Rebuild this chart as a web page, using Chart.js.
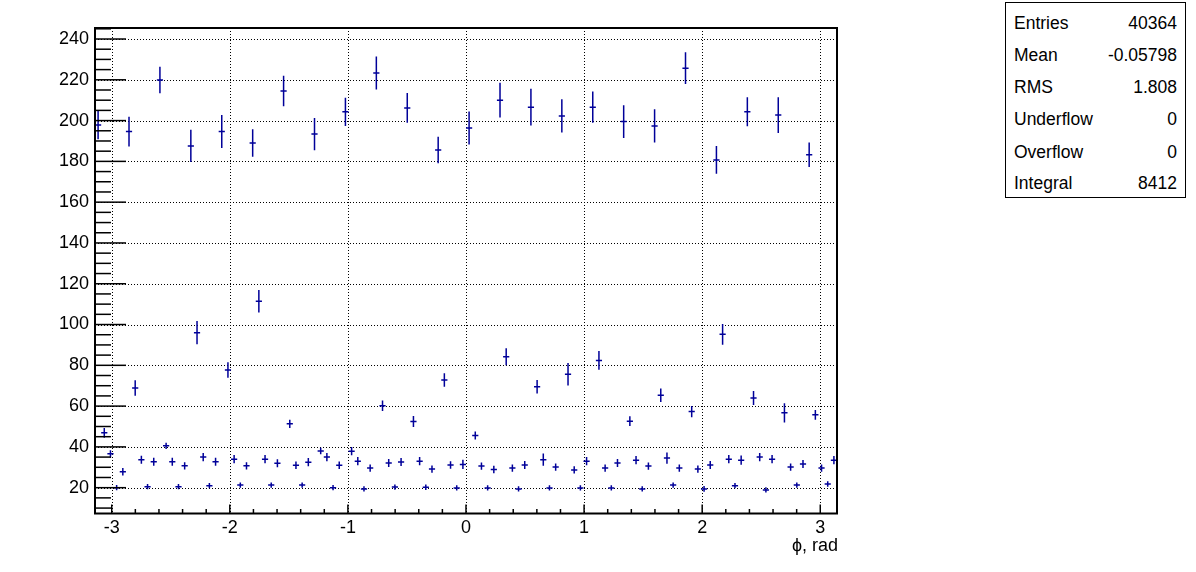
<!DOCTYPE html>
<html>
<head>
<meta charset="utf-8">
<script src="https://cdn.jsdelivr.net/npm/chart.js@4.4.0/dist/chart.umd.min.js"></script>
<style>
    body { margin: 0; background: #fff; }
    #wrap { position: relative; width: 1196px; height: 572px; }
    #stats {
        position: absolute; left: 1005px; top: 2px; width: 181px; height: 196px;
        border: 1px solid #000; box-sizing: border-box; background: #fff;
        font-family: "Liberation Sans", Arial, sans-serif; font-size: 17.5px; color: #000;
    }
    .row { position: absolute; left: 8px; right: 8px; height: 20px; line-height: 20px; display: flex; justify-content: space-between; }
</style>
</head>
<body>
<div id="wrap">
    <canvas id="chart" width="1196" height="572"></canvas>
    <div id="stats"></div>
</div>
<script>
// Histogram contents (120 bins from -pi to pi)
const counts = [
    197.8, 46.9, 36.6, 20.0, 27.8,
    194.6, 68.9, 33.7, 20.5, 32.7,
    219.9, 40.5, 32.7, 20.5, 30.7,
    187.6, 96.0, 35.0, 21.0, 32.7,
    194.6, 77.7, 34.0, 21.3, 30.7,
    189.0, 111.4, 34.0, 21.3, 32.0,
    214.5, 51.3, 31.0, 21.3, 32.5,
    193.4, 38.0, 35.0, 20.0, 31.0,
    204.3, 37.9, 33.0, 19.4, 29.6,
    223.3, 60.2, 32.1, 20.3, 32.6,
    206.2, 52.4, 33.0, 20.2, 29.1,
    185.6, 72.8, 31.1, 19.9, 31.4,
    196.4, 45.6, 30.6, 19.9, 28.9,
    210.0, 84.2, 29.6, 19.4, 31.1,
    206.6, 69.5, 33.7, 19.9, 30.1,
    202.3, 75.6, 28.7, 19.9, 33.0,
    206.6, 82.4, 29.6, 19.9, 32.1,
    199.5, 52.6, 33.5, 19.4, 30.6,
    197.4, 65.3, 34.5, 21.3, 29.6,
    225.7, 57.3, 29.1, 19.4, 31.1,
    180.7, 95.2, 34.0, 21.0, 33.5,
    204.3, 64.0, 35.0, 18.9, 34.0,
    202.7, 56.7, 30.1, 21.3, 31.6,
    183.2, 55.7, 29.6, 21.8, 33.5
];

// Bin errors
const errors = [
    6.9, 2.4, 1.8, 1.3, 1.8,
    7.3, 3.8, 2.0, 1.3, 2.0,
    6.5, 1.5, 2.0, 1.3, 1.8,
    7.9, 5.7, 2.0, 1.3, 2.0,
    8.1, 3.8, 2.0, 1.3, 1.8,
    6.7, 5.5, 2.0, 1.3, 2.0,
    7.5, 2.0, 1.8, 1.3, 2.0,
    7.9, 1.6, 2.0, 1.3, 1.8,
    6.9, 2.0, 2.0, 1.3, 1.8,
    8.1, 2.6, 2.0, 1.3, 2.0,
    7.3, 2.7, 2.0, 1.3, 1.8,
    6.5, 3.3, 1.8, 1.3, 2.3,
    8.1, 2.0, 1.8, 1.3, 1.8,
    8.5, 4.2, 1.8, 1.3, 2.0,
    9.0, 3.3, 3.0, 1.3, 1.8,
    8.2, 5.5, 1.8, 1.3, 2.0,
    7.7, 4.6, 1.8, 1.3, 2.0,
    8.0, 2.4, 2.0, 1.3, 1.8,
    8.1, 3.3, 2.8, 1.3, 1.8,
    7.8, 2.8, 1.8, 1.4, 2.0,
    6.8, 5.1, 2.0, 1.3, 2.3,
    7.1, 3.4, 2.0, 1.3, 2.0,
    8.8, 4.7, 1.8, 1.3, 2.0,
    6.0, 2.4, 1.8, 1.3, 2.0
];

// Axis ticks
const xTicks = [-3, -2, -1, 0, 1, 2, 3];
const yTicks = [20, 40, 60, 80, 100, 120, 140, 160, 180, 200, 220, 240];
const xRange = [-Math.PI, Math.PI];
const yRange = [7.34, 245.4];
const xTitle = 'ϕ, rad';

// Stats box
const statLabels = ['Entries', 'Mean', 'RMS', 'Underflow', 'Overflow', 'Integral'];
const statValues = ['40364', '-0.05798', '1.808', '0', '0', '8412'];

const fontFamily = '"Liberation Sans", Arial, sans-serif';
const markColor = '#000099';
const binWidth = (xRange[1] - xRange[0]) / counts.length;

// Fill stats box
const statsBox = document.getElementById('stats');
const rowCenters = [22.5, 54.5, 87, 119, 151.5, 182.5];
statLabels.forEach((label, i) => {
    const row = document.createElement('div');
    row.className = 'row';
    row.style.top = (rowCenters[i] - 3 - 10) + 'px';
    row.innerHTML = `<span>${label}</span><span>${statValues[i]}</span>`;
    statsBox.appendChild(row);
});

// Frame, dotted grid, ticks and error crosses like ROOT
const rootStyle = {
    id: 'rootStyle',
    beforeDatasetsDraw(chart) {
        const { ctx, chartArea: a, scales: { x, y } } = chart;
        ctx.save();
        ctx.strokeStyle = '#000';
        ctx.lineWidth = 1;
        ctx.setLineDash([1, 2]);
        xTicks.forEach(v => {
            const px = Math.round(x.getPixelForValue(v)) + 0.5;
            ctx.beginPath();
            ctx.moveTo(px, a.top);
            ctx.lineTo(px, a.bottom);
            ctx.stroke();
        });
        yTicks.forEach(v => {
            const py = Math.round(y.getPixelForValue(v)) + 0.5;
            ctx.beginPath();
            ctx.moveTo(a.left, py);
            ctx.lineTo(a.right, py);
            ctx.stroke();
        });
        ctx.restore();
    },
    afterDatasetsDraw(chart) {
        const { ctx, chartArea: a, scales: { x, y } } = chart;
        ctx.save();

        // Error crosses
        ctx.strokeStyle = markColor;
        ctx.lineWidth = 1.5;
        const meta = chart.getDatasetMeta(0);
        meta.data.forEach((pt, i) => {
            const cx = x.getPixelForValue(xRange[0] + (i + 0.5) * binWidth);
            const x0 = x.getPixelForValue(xRange[0] + i * binWidth);
            const x1 = x.getPixelForValue(xRange[0] + (i + 1) * binWidth);
            const yTop = y.getPixelForValue(counts[i] + errors[i]);
            const yBot = y.getPixelForValue(counts[i] - errors[i]);
            ctx.beginPath();
            ctx.moveTo(x0, pt.y);
            ctx.lineTo(x1, pt.y);
            ctx.moveTo(cx, yTop);
            ctx.lineTo(cx, yBot);
            ctx.stroke();
        });

        // Ticks on the left and bottom axes
        ctx.strokeStyle = '#000';
        ctx.lineWidth = 1.5;
        for (let v = 10; v <= yRange[1]; v += 5) {
            const py = y.getPixelForValue(v);
            const len = v % 20 === 0 ? 31 : 16;
            ctx.beginPath();
            ctx.moveTo(a.left, py);
            ctx.lineTo(a.left + len, py);
            ctx.stroke();
        }
        for (let k = -15; k <= 15; k++) {
            const v = k / 5;
            if (v < xRange[0] || v > xRange[1]) continue;
            const px = x.getPixelForValue(v);
            const len = k % 5 === 0 ? 9 : 4.5;
            ctx.beginPath();
            ctx.moveTo(px, a.bottom);
            ctx.lineTo(px, a.bottom - len);
            ctx.stroke();
        }

        // Frame
        ctx.lineWidth = 2;
        ctx.strokeRect(a.left, a.top, a.right - a.left, a.bottom - a.top);

        // Axis title
        ctx.fillStyle = '#000';
        ctx.font = '18px ' + fontFamily;
        ctx.textAlign = 'right';
        ctx.textBaseline = 'middle';
        ctx.fillText(xTitle, a.right + 1, 546);
        ctx.restore();
    }
};

const points = counts.map((v, i) => ({ x: xRange[0] + (i + 0.5) * binWidth, y: v }));

new Chart(document.getElementById('chart').getContext('2d'), {
    type: 'scatter',
    data: {
        datasets: [{
            data: points,
            pointRadius: 0,
            showLine: false,
            borderColor: markColor,
            backgroundColor: markColor
        }]
    },
    options: {
        responsive: false,
        animation: false,
        devicePixelRatio: 1,
        layout: { padding: { top: 28, right: 359, bottom: 0, left: 0 } },
        plugins: { legend: { display: false }, tooltip: { enabled: false } },
        scales: {
            x: {
                type: 'linear',
                min: xRange[0],
                max: xRange[1],
                grid: { display: false, drawTicks: false },
                border: { display: false },
                afterBuildTicks: scale => { scale.ticks = xTicks.map(v => ({ value: v })); },
                afterFit: scale => { scale.height = 58.5; },
                ticks: {
                    color: '#000',
                    padding: 4,
                    maxRotation: 0,
                    autoSkip: false,
                    font: { family: fontFamily, size: 18 },
                    callback: v => String(v)
                }
            },
            y: {
                type: 'linear',
                min: yRange[0],
                max: yRange[1],
                grid: { display: false, drawTicks: false },
                border: { display: false },
                afterBuildTicks: scale => { scale.ticks = yTicks.map(v => ({ value: v })); },
                afterFit: scale => { scale.width = 95; },
                ticks: {
                    color: '#000',
                    padding: 6,
                    font: { family: fontFamily, size: 18 },
                    callback: v => String(v)
                }
            }
        }
    },
    plugins: [rootStyle]
});
</script>
</body>
</html>
